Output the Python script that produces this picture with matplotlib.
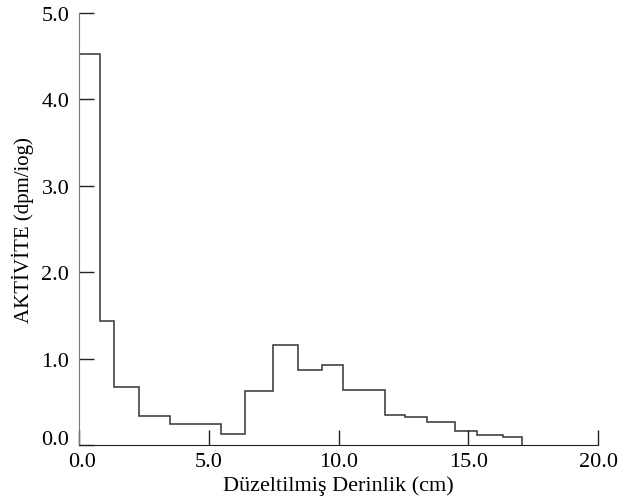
import matplotlib
matplotlib.use("Agg")
import matplotlib.pyplot as plt
import matplotlib.transforms as mtransforms

# bin edges (cm) and activity values (dpm/g)
depthEdges = [0, 0.82, 1.36, 2.32, 3.49, 5.46, 6.40, 7.48, 8.43, 9.35,
              10.17, 11.79, 12.56, 13.4, 14.48, 15.33, 16.34, 17.06]
activity = [4.52, 1.44, 0.67, 0.34, 0.243, 0.124, 0.62, 1.155, 0.866, 0.93,
            0.64, 0.344, 0.324, 0.27, 0.159, 0.12, 0.093]

xTicks = [0, 5, 10, 15, 20]
yTicks = [0, 1, 2, 3, 4, 5]

plt.rcParams['font.family'] = ['Liberation Serif', 'DejaVu Serif']

fig = plt.figure(figsize=(6.33, 5.02), dpi=100)
ax = fig.add_axes([0.1248, 0.1116, 0.82, 0.8605])

ax.stairs(activity, depthEdges, color='#333333', linewidth=1.1)

ax.set_xlim(0, 20)
ax.set_ylim(0, 5)
ax.set_xticks(xTicks)
ax.set_xticklabels(["%.1f" % t for t in xTicks])
ax.set_yticks(yTicks)
ax.set_yticklabels(["%.1f" % t for t in yTicks])

ax.spines['top'].set_visible(False)
ax.spines['right'].set_visible(False)
ax.spines['left'].set_color('#777777')
ax.spines['bottom'].set_color('#222222')
ax.tick_params(direction='in', length=11, width=1, labelsize=16, color='#222222')
ax.tick_params(axis='x', pad=5)
ax.tick_params(axis='y', pad=7)

# the two 0.0 labels are nudged apart in the original
yZero = ax.get_yticklabels()[0]
yZero.set_transform(yZero.get_transform() +
                    mtransforms.ScaledTranslation(0, 8 / 100, fig.dpi_scale_trans))
xZero = ax.get_xticklabels()[0]
xZero.set_transform(xZero.get_transform() +
                    mtransforms.ScaledTranslation(3 / 100, 0, fig.dpi_scale_trans))

ax.set_xlabel("Düzeltilmiş Derinlik (cm)", fontsize=16, labelpad=3)
ax.set_ylabel("AKTİVİTE (dpm/iog)", fontsize=15, labelpad=5)

fig.savefig("out.png", dpi=100)
